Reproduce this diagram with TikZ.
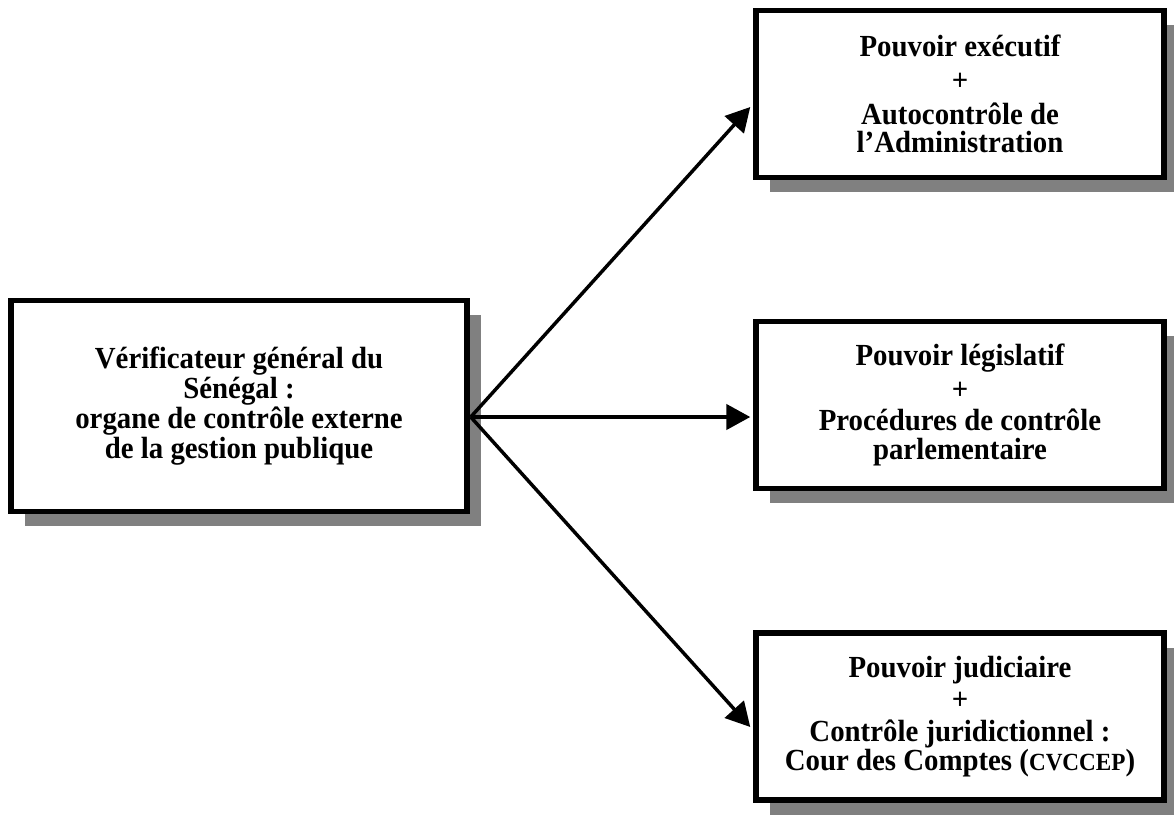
\documentclass[tikz,border=0pt]{standalone}
\usepackage{fontspec}
\setmainfont{Liberation Serif}
\newfontfamily\boxfont[FakeStretch=0.94]{Liberation Serif}
\setlength{\lineskiplimit}{-20pt}
\usetikzlibrary{arrows.meta,shadows,calc}
\begin{document}
\begin{tikzpicture}[x=0.75pt,y=-0.75pt,
  box/.style={draw, line width=4.1pt, fill=white, inner sep=0pt, align=flush center,
    font=\boxfont\bfseries\fontsize{23pt}{21.5pt}\selectfont,
    drop shadow={shadow xshift=10.5pt, shadow yshift=-11pt, fill=black!50, opacity=1}},
  leftbox/.style={box, minimum width=342pt, minimum height=158.25pt, text width=330pt,
    execute at begin node={\setlength{\baselineskip}{22.5pt}}},
  rightbox/.style={box, minimum width=306pt, minimum height=125.25pt, text width=296pt,
    execute at begin node={\setlength{\baselineskip}{21.5pt}}},
  conn/.style={line width=2.6pt, -{Triangle[length=18pt,width=19pt]}}]
\useasboundingbox (0,0) rectangle (1174,817);

\node[leftbox] (L) at (239,406) {Vérificateur général du\\ Sénégal :\\ organe de contrôle externe\\ de la gestion publique};

\node[rightbox] (T) at (960,94) {Pouvoir exécutif\\[4pt] +\\[4pt] Autocontrôle de\\ l’Administration};
\node[rightbox] (M) at (960,405) {Pouvoir législatif\\[3.5pt] +\\[2pt] Procédures de contrôle\\ parlementaire};
\node[rightbox] (B) at (960,716.5) {Pouvoir judiciaire\\[2.5pt] +\\[2.5pt] Contrôle juridictionnel :\\ Cour des Comptes ({\fontsize{18.5pt}{21pt}\selectfont CVCCEP})};

\coordinate (o) at ($(L.east)+(1,11)$);
\draw[conn] (o) -- ($(T.west)+(-3,13)$);
\draw[conn] (o) -- ($(M.west)+(-3,12)$);
\draw[conn] (o) -- ($(B.west)+(-3,10.5)$);
\end{tikzpicture}
\end{document}
